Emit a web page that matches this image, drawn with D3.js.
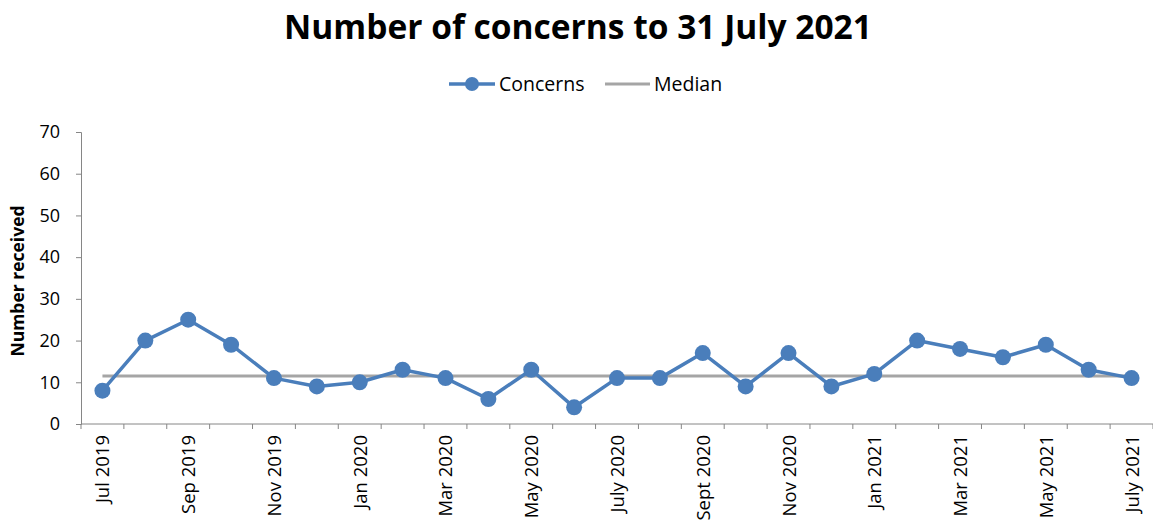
<!DOCTYPE html>
<html>
<head>
<meta charset="utf-8">
<script src="https://cdn.jsdelivr.net/npm/d3@7"></script>
<style>
  html, body { margin: 0; padding: 0; background: #fff; }
  svg { display: block; font-family: "Open Sans", "Noto Sans", sans-serif; }
</style>
</head>
<body>
<svg id="chart" width="1153" height="526"></svg>
<script>
// Monthly concerns, July 2019 to July 2021
const months = [
  "Jul 2019", "Aug 2019", "Sep 2019", "Oct 2019", "Nov 2019", "Dec 2019",
  "Jan 2020", "Feb 2020", "Mar 2020", "Apr 2020", "May 2020", "Jun 2020",
  "July 2020", "Aug 2020", "Sept 2020", "Oct 2020", "Nov 2020", "Dec 2020",
  "Jan 2021", "Feb 2021", "Mar 2021", "Apr 2021", "May 2021", "Jun 2021",
  "July 2021"
];
const concerns = [8, 20, 25, 19, 11, 9, 10, 13, 11, 6, 13, 4, 11, 11, 17, 9, 17, 9, 12, 20, 18, 16, 19, 13, 11];
const medianValue = 11.5;
const yTicks = [0, 10, 20, 30, 40, 50, 60, 70];

const svg = d3.select("#chart");
const margin = { left: 81, right: 0, top: 132, bottom: 102 };
const W = 1153, H = 526;

const x = d3.scaleBand().domain(months).range([margin.left, W - margin.right]).padding(0);
const y = d3.scaleLinear().domain([0, 70]).range([H - margin.bottom, margin.top]);
const cx = d => x(d) + x.bandwidth() / 2;

const axisColor = "#868686";
const blue = "#4a7ebb";
const grey = "#a5a5a5";

// Title
svg.append("text")
  .attr("x", 578).attr("y", 39)
  .attr("text-anchor", "middle")
  .attr("font-size", 33.5).attr("font-weight", "bold").attr("fill", "#000")
  .text("Number of concerns to 31 July 2021");

// Legend
const lg = svg.append("g");
lg.append("line").attr("x1", 449).attr("x2", 495).attr("y1", 84).attr("y2", 84)
  .attr("stroke", blue).attr("stroke-width", 3.5);
lg.append("circle").attr("cx", 472).attr("cy", 84).attr("r", 7).attr("fill", blue);
lg.append("text").attr("x", 499).attr("y", 91).attr("font-size", 19.5).text("Concerns");
lg.append("line").attr("x1", 605).attr("x2", 650).attr("y1", 84).attr("y2", 84)
  .attr("stroke", grey).attr("stroke-width", 3);
lg.append("text").attr("x", 654).attr("y", 91).attr("font-size", 19.5).text("Median");

// Y axis
const yAxis = svg.append("g")
  .attr("transform", `translate(${margin.left},0)`)
  .call(d3.axisLeft(y).tickValues(yTicks).tickSize(5).tickPadding(16));
yAxis.select(".domain").attr("stroke", axisColor);
yAxis.selectAll(".tick line").attr("stroke", axisColor);
yAxis.selectAll(".tick text").attr("font-size", 18).attr("fill", "#000")
  .attr("font-family", "'Open Sans', sans-serif");

// Y axis title
svg.append("text")
  .attr("transform", `translate(24,${(y(0) + y(70)) / 2 + 3}) rotate(-90)`)
  .attr("text-anchor", "middle")
  .attr("font-size", 17.5).attr("font-weight", "bold")
  .text("Number received");

// X axis: ticks at category boundaries, labels on alternate months
const xg = svg.append("g");
xg.append("line")
  .attr("x1", margin.left).attr("x2", W)
  .attr("y1", y(0)).attr("y2", y(0))
  .attr("stroke", axisColor);
xg.selectAll(".xt").data(months.concat(["__end"]))
  .join("line")
  .attr("class", "xt")
  .attr("x1", (d, i) => margin.left + i * x.bandwidth())
  .attr("x2", (d, i) => margin.left + i * x.bandwidth())
  .attr("y1", y(0)).attr("y2", y(0) + 5)
  .attr("stroke", axisColor);
xg.selectAll(".xl").data(months.filter((d, i) => i % 2 === 0))
  .join("text")
  .attr("class", "xl")
  .attr("transform", d => `translate(${cx(d) + 7},${y(0) + 11}) rotate(-90)`)
  .attr("text-anchor", "end")
  .attr("font-size", 18.5)
  .text(d => d);

// Median line
svg.append("line")
  .attr("x1", cx(months[0])).attr("x2", cx(months[months.length - 1]))
  .attr("y1", y(medianValue)).attr("y2", y(medianValue))
  .attr("stroke", grey).attr("stroke-width", 3);

// Concerns series
const line = d3.line().x((d, i) => cx(months[i])).y(d => y(d));
svg.append("path")
  .datum(concerns)
  .attr("d", line)
  .attr("fill", "none")
  .attr("stroke", blue).attr("stroke-width", 3.5)
  .attr("stroke-linejoin", "round");
svg.selectAll(".pt").data(concerns)
  .join("circle")
  .attr("class", "pt")
  .attr("cx", (d, i) => cx(months[i]))
  .attr("cy", d => y(d))
  .attr("r", 8)
  .attr("fill", blue);
</script>
</body>
</html>
